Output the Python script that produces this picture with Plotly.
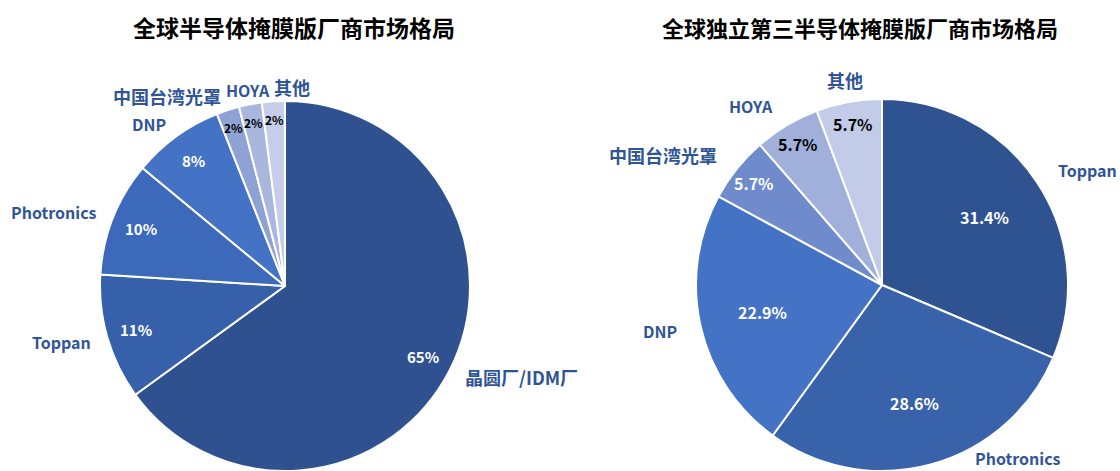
import math
import re
import plotly.graph_objects as go

# ---------------- data ----------------
left_title = "全球半导体掩膜版厂商市场格局"
left_labels = ["晶圆厂/IDM厂", "Toppan", "Photronics", "DNP", "中国台湾光罩", "HOYA", "其他"]
left_values = [65, 11, 10, 8, 2, 2, 2]
left_text = ["65%", "11%", "10%", "8%", "2%", "2%", "2%"]

right_title = "全球独立第三半导体掩膜版厂商市场格局"
right_labels = ["Toppan", "Photronics", "DNP", "中国台湾光罩", "HOYA", "其他"]
right_values = [31.4, 28.6, 22.9, 5.7, 5.7, 5.7]
right_text = ["31.4%", "28.6%", "22.9%", "5.7%", "5.7%", "5.7%"]

# ---------------- styles / layout ----------------
W, H = 1120, 471
FONT = "Noto Sans CJK SC"
LABEL_COLOR = "#2F5597"

left_colors = ["#2F5190", "#3661AA", "#3D69BA", "#4472C4", "#8FA2D4", "#A9B7DE", "#C5CDE8"]
left_pct_colors = ["white", "white", "white", "white", "black", "black", "black"]
right_colors = ["#2F5291", "#3862AA", "#4472C4", "#6F8BCB", "#A0B0DB", "#C2CBE7"]
right_pct_colors = ["white", "white", "white", "white", "black", "black"]

# pie geometry in pixels (center x, center y from top, radius)
LEFT_GEOM = (285, 286, 185)
RIGHT_GEOM = (882, 285, 186)

CJK = re.compile(r"[\u4e00-\u9fff]")


def domain(cx, cy, r):
    return dict(x=[(cx - r) / W, (cx + r) / W],
                y=[max(0, (H - cy - r) / H), min(1, (H - cy + r) / H)])


fig = go.Figure()
annotations = []


def add_pie(labels, values, texts, colors, pct_colors, geom, big_factor, small_pct_size,
            big_pct_size, label_factor, title, title_x, title_y, title_size):
    cx, cy, r = geom
    fig.add_trace(go.Pie(
        labels=labels, values=values, sort=False, direction="clockwise", rotation=0,
        marker=dict(colors=colors, line=dict(color="white", width=2)),
        textinfo="none", hoverinfo="label+percent", showlegend=False,
        domain=domain(cx, cy, r),
    ))
    total = sum(values)
    cum = 0.0
    for lab, v, t, pc in zip(labels, values, texts, pct_colors):
        mid = (cum + v / 2) / total * 360.0
        cum += v
        s, c = math.sin(math.radians(mid)), math.cos(math.radians(mid))
        frac = v / total
        # percentage label
        f = 0.9 if frac < 0.04 else (0.88 if frac < 0.07 else big_factor)
        px, py = cx + r * f * s, cy - r * f * c
        annotations.append(dict(
            x=px / W, y=(H - py) / H, xref="paper", yref="paper", showarrow=False,
            text=f"<b>{t}</b>", xanchor="center", yanchor="middle",
            font=dict(family=FONT, size=small_pct_size if frac < 0.04 else big_pct_size, color=pc),
        ))
        # category label outside
        rl = r * label_factor
        lx, ly = cx + rl * s, cy - rl * c
        bottom = H - 13
        if ly > bottom:  # keep inside the visible area by sliding along the circle
            rl = r * 1.05
            cosv = (bottom - cy) / rl
            ang = math.pi - math.acos(cosv)
            lx, ly = cx + rl * math.sin(ang), bottom
            s = math.sin(ang)
        if s < -0.3:
            xa = "right"
        elif s < -0.15:
            xa = "center"
        else:
            xa = "left"
        size = 18 if CJK.search(lab) else 16
        annotations.append(dict(
            x=lx / W, y=(H - ly) / H, xref="paper", yref="paper", showarrow=False,
            text=f"<b>{lab}</b>", xanchor=xa, yanchor="middle",
            font=dict(family=FONT, size=size, color=LABEL_COLOR),
        ))
    annotations.append(dict(
        x=title_x / W, y=(H - title_y) / H, xref="paper", yref="paper", showarrow=False,
        text=f"<b>{title}</b>", xanchor="center", yanchor="middle",
        font=dict(family=FONT, size=title_size, color="black"),
    ))


add_pie(left_labels, left_values, left_text, left_colors, left_pct_colors, LEFT_GEOM,
        0.84, 12, 15, 1.08, left_title, 294, 27, 23)
add_pie(right_labels, right_values, right_text, right_colors, right_pct_colors, RIGHT_GEOM,
        0.66, 12, 16, 1.12, right_title, 860, 27, 22)

fig.update_layout(
    width=W, height=H, margin=dict(l=0, r=0, t=0, b=0),
    paper_bgcolor="white", plot_bgcolor="white",
    annotations=annotations,
    font=dict(family=FONT),
)

fig.write_html("out.html")
